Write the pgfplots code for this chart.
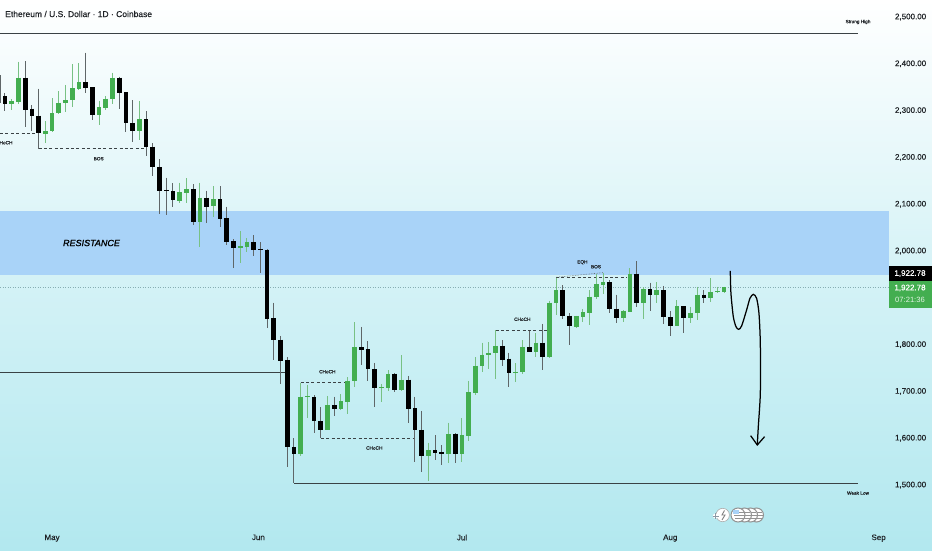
\documentclass[border=0pt]{standalone}
\usepackage{pgfplots}
\usepackage{pgfplotstable}
\pgfplotsset{compat=1.18}
\usepackage{fontspec}
\setmainfont{Liberation Sans}
\newfontfamily\heavy[FakeBold=0.35]{Liberation Sans}
\newfontfamily\resist[FakeBold=1.2,Color=000000]{Liberation Sans Italic}
\definecolor{upc}{HTML}{43AE50}
\definecolor{upw}{HTML}{78C184}
\definecolor{dnc}{HTML}{000000}
\definecolor{dnw}{HTML}{5F6668}
\definecolor{band}{HTML}{A9D3F8}
\definecolor{bgb}{HTML}{B2E8EF}
\definecolor{lvl}{HTML}{3A4245}
\definecolor{txt}{HTML}{1E2226}
\pgfplotstableread{
k h t b l
1 2324 2320.5 2315 2301
2 2404.5 2370.3 2319 2314
6 2277.7 2256.4 2250.7 2231.4
7 2326.2 2294.8 2255.7 2254
8 2341.1 2316.9 2294.1 2293
9 2354.7 2322.6 2315.5 2297.7
10 2399.5 2347.5 2321.9 2308.4
11 2401 2360.4 2345.4 2345
14 2321.2 2307 2289.9 2269.9
15 2331.2 2325.5 2305.5 2301.2
16 2381 2370.3 2324.8 2314.1
20 2320.5 2282 2256.4 2237.1
26 2146 2126 2107.5 2101.8
27 2155.2 2132.4 2124.6 2101.8
29 2146 2113.9 2061.9 2007.8
31 2138.8 2110.3 2096.1 2073.3
35 2042.7 2010.6 2005.6 1973.6
36 2027 2019.2 2009.2 1998.5
44 1718.6 1688.7 1566.9 1562.6
45 1713.7 1689.4 1687.3 1643.8
48 1690.2 1670.2 1617.5 1616.8
50 1694.4 1678.7 1663.1 1660.2
51 1730 1722.9 1678 1651
52 1847.6 1794.1 1722.9 1708.7
56 1715.8 1708.7 1706.5 1676.6
57 1745.7 1737.9 1706.5 1701.5
59 1777.1 1725.1 1702.3 1701.5
63 1590.4 1574 1562.6 1508.5
66 1633.2 1609.7 1566.2 1546.3
68 1643.1 1606.8 1566.2 1549.8
69 1722.2 1698 1605.4 1594
70 1772.8 1755 1695.9 1692.3
71 1804.1 1778.5 1754.3 1742.2
72 1805.5 1782.8 1777.1 1747.1
73 1830.5 1797 1782 1727.2
76 1759.9 1742.1 1740 1719.3
77 1809.8 1794.1 1741.4 1736.4
79 1824 1804.1 1784.8 1774.2
81 1893.8 1889.6 1772.7 1771.3
82 1943 1915.9 1888.1 1862.5
85 1861.8 1861.1 1838.3 1834.7
86 1876 1869.6 1858.9 1849
87 1916.6 1902.4 1868.2 1841.1
88 1950.8 1928.7 1901 1897.4
89 1953.7 1933 1927.3 1908.1
92 1873.9 1872.5 1856.8 1848.2
93 1963.6 1951.5 1870.3 1869.6
95 1922.3 1918.8 1888.1 1853.9
97 1933.7 1915.9 1905.2 1888.1
100 1895.2 1882.4 1840.4 1839.7
102 1881 1867.5 1856.8 1846.1
103 1923.8 1906.7 1866.8 1852.5
105 1941.6 1912.3 1900.2 1891.7
106 1923.8 1914.5 1911.6 1910.2
107 1923.8 1922.78 1913.1 1911
}\upt
\pgfplotstableread{
k h t b l
-0.7 2376 2316 2316 2316
0 2338 2331 2315 2300
3 2405 2370 2301.2 2264.2
4 2311.2 2304.1 2288.4 2256.4
5 2346.8 2289.1 2251.4 2218.6
12 2423.8 2360.4 2349 2336.9
13 2349.7 2349.7 2290.6 2279.9
17 2372.5 2370.3 2337.6 2303.4
18 2339.7 2339 2272.8 2255
19 2322.6 2273.5 2256.4 2232.9
21 2299.1 2282 2222.2 2203
22 2230 2222.9 2178.7 2160.9
23 2196.5 2179.4 2128.2 2078.3
24 2156.6 2129.6 2127.8 2076.2
25 2144.5 2127.4 2108.2 2094.7
28 2142.4 2131.7 2061.9 2054.8
30 2128.9 2113.9 2094.7 2059
32 2138.8 2110.3 2069 2052
33 2094.7 2069.8 2019.9 2012.8
34 2024.9 2021.3 2005.6 1964.3
37 2034.1 2019.2 2002.8 1989.3
38 2018.5 2004.2 2002.8 1952.2
39 2004.2 2002.8 1855.4 1836.2
40 1889.6 1856.8 1809.1 1767.1
41 1818.4 1810.5 1765.7 1715.8
42 1772.8 1767.1 1581.2 1537.7
43 1599.7 1580.5 1566.9 1503.5
46 1691.6 1688.7 1636 1611.8
47 1665.9 1636.7 1616.8 1599.7
49 1688.7 1670.2 1663.1 1648.1
53 1837.6 1794.1 1789.2 1757.1
54 1807 1789.9 1747.1 1722.2
55 1760.7 1747.8 1706.5 1667.4
58 1738.6 1737.9 1702.3 1699.4
60 1732.9 1725.1 1663.1 1633.2
61 1688.7 1664.5 1616.8 1549.1
62 1658.1 1617.5 1562.6 1528.5
64 1606.8 1574.8 1569.1 1553.4
65 1585.4 1570.5 1566.2 1543.4
67 1610.4 1609.7 1566.2 1546.3
74 1809.8 1797 1767.1 1755
75 1782.7 1769.9 1740 1710.1
78 1829 1794.1 1784.8 1784.1
80 1844 1804.1 1772.7 1745.7
83 1926.6 1915.9 1861.1 1854.7
84 1866.8 1861.8 1839 1799.8
90 1938 1933 1875.3 1866.8
91 1906.7 1876.7 1857.5 1845.4
94 1977.9 1951.5 1888.8 1879.6
96 1932.3 1918.8 1906 1871
98 1925.2 1915.9 1858.2 1844.7
99 1871.8 1858.9 1840.4 1819
101 1882.4 1882.4 1856.8 1824.7
104 1916.6 1906.7 1900.2 1888.1
}\dnt
\begin{document}
\begin{tikzpicture}
\path[use as bounding box] (0,0) rectangle (932pt,550pt);
\shade[top color=white, bottom color=bgb, middle color=bgb!55!white] (0,0) rectangle (932pt,550pt);
\begin{axis}[
  at={(0pt,25pt)}, anchor=south west, scale only axis,
  width=889pt, height=525pt,
  xmin=-0.744, xmax=131.55, ymin=1414.5, ymax=2536.3,
  axis line style={draw=none}, major tick length=0pt,
  ytick={1500,1600,1700,1800,2000,2100,2200,2300,2400,2500},
  yticklabel pos=right,
  xtick={7,37.7,68,99,130}, xticklabels={May,Jun,Jul,Aug,Sep},
  /pgf/number format/assume math mode=true,
  /pgf/number format/fixed, /pgf/number format/fixed zerofill,
  /pgf/number format/precision=2, /pgf/number format/1000 sep={,},
  scaled y ticks=false,
  y tick label style={font=\heavy\fontsize{8}{9}\selectfont, text=txt, anchor=west, xshift=2.5pt},
  x tick label style={font=\heavy\fontsize{8}{9}\selectfont, text=txt, yshift=-6pt},
  tick style={draw=none},
]
% resistance zone
\addplot[fill=band, draw=none, forget plot] coordinates {(-0.744,2085.5) (131.55,2085.5) (131.55,1948.7) (-0.744,1948.7)} -- cycle;
% last price
\addplot[color=lvl!35!bgb, dotted, line width=0.5pt, forget plot] coordinates {(-0.744,1922.78) (131.55,1922.78)};
% levels
\addplot[color=lvl, line width=0.9pt, forget plot] coordinates {(-0.744,2465.8) (126.9,2465.8)};
\addplot[color=lvl, line width=0.8pt, forget plot] coordinates {(43,1503.6) (126.9,1503.6)};
\addplot[color=lvl, line width=0.8pt, forget plot] coordinates {(-0.744,1741.5) (41.7,1741.5)};
% dashed structure
\foreach \a/\b/\p in {-0.744/5/2251.5, 5/21/2218.6, 44/51/1718.6, 47/61/1599.7, 73/81/1830.5, 82/92.5/1943.8}{
  \edef\tmp{\noexpand\addplot[color=lvl, dash pattern=on 3pt off 2.4pt, line width=0.7pt, forget plot] coordinates {(\a,\p) (\b,\p)};}
  \tmp
}
\addplot[color=lvl!80!white, densely dotted, line width=0.6pt, forget plot] coordinates {(82,1943.8) (89,1953.7)};
% wicks
\addplot[draw=none, mark=none, forget plot, error bars/.cd, y dir=minus, y explicit, error mark=none, error bar style={line width=1pt, color=upw}]
  table[x=k, y=h, y error minus expr=\thisrow{h}-\thisrow{l}] {\upt};
\addplot[draw=none, mark=none, forget plot, error bars/.cd, y dir=minus, y explicit, error mark=none, error bar style={line width=1pt, color=dnw}]
  table[x=k, y=h, y error minus expr=\thisrow{h}-\thisrow{l}] {\dnt};
% bodies
\addplot[draw=none, mark=none, forget plot, error bars/.cd, y dir=minus, y explicit, error mark=none, error bar style={line width=4.7pt, color=upc}]
  table[x=k, y=t, y error minus expr=\thisrow{t}-\thisrow{b}] {\upt};
\addplot[draw=none, mark=none, forget plot, error bars/.cd, y dir=minus, y explicit, error mark=none, error bar style={line width=4.7pt, color=dnc}]
  table[x=k, y=t, y error minus expr=\thisrow{t}-\thisrow{b}] {\dnt};
% projected path
\addplot[black, line width=1.25pt, smooth, tension=0.45, forget plot] coordinates {(107.93,1957.3) (108.03,1909.6) (108.38,1859.7) (108.78,1838.3) (109.17,1832.6) (109.62,1839.8) (110.36,1873.9) (110.86,1898.9) (111.36,1907.4) (111.85,1898.9) (112.2,1866.8) (112.4,1802.7) (112.4,1695.9) (112.1,1624.6) (111.95,1585.5)};
\addplot[black, line width=1.25pt, forget plot] coordinates {(110.96,1605.4) (111.95,1585.5) (113.04,1603.3)};
\end{axis}
\begin{scope}[x=1pt,y=-1pt,yshift=550pt]
\node[anchor=west, inner sep=0, font=\heavy\fontsize{8.5}{10}\selectfont, text=txt] at (5,14) {Ethereum / U.S. Dollar · 1D · Coinbase};
\node[font=\resist\fontsize{9}{12}\selectfont, text=black, inner sep=0] at (91.5,243) {RESISTANCE};
\foreach \px/\py/\s in {6/142.7/HoCH, 98.7/158.7/BOS, 327.3/371.7/CHoCH, 374.3/448/CHoCH, 522.3/319.3/CHoCH, 582.3/262.3/EQH, 596/266.7/BOS, 858/22/Strong High, 858/493/Weak Low}{
  \node[font=\heavy\fontsize{4.7}{5}\selectfont, text=txt, inner sep=0] at (\px,\py) {\s};
}
\fill[black] (889,266) rectangle (932,281);
\node[font=\heavy\fontsize{8}{9}\selectfont, text=white, inner sep=0] at (910,273.5) {1,922.78};
\fill[upc] (889,281) rectangle (932,308);
\node[font=\heavy\fontsize{8}{9}\selectfont, text=white, inner sep=0] at (910,288) {1,922.78};
\node[font=\fontsize{7.6}{9}\selectfont, text=white!85!upc, inner sep=0] at (910,300) {07:21:36};
% flags
\foreach \cx in {756.5,750.5,744.5,738}{
  \draw[fill=white, draw=gray!85, line width=1pt] (\cx,515) circle (7);
  \draw[gray!85, line width=0.9pt] (\cx-3,512) -- (\cx+5.5,512) (\cx-4,515) -- (\cx+6.5,515) (\cx-3,518) -- (\cx+5.5,518);
}
\fill[band] (733,510) rectangle (739,514);
\draw[fill=white, draw=gray!65, line width=0.6pt] (722.7,515) circle (6.7);
\draw[gray, line width=0.9pt] (724.5,510.5) -- (722,515) -- (725,515) -- (722,520);
\fill[white] (715.5,516) circle (2.6);
\draw[gray!70!band, line width=0.7pt] (715.5,513) -- (715.5,519) (712.5,516) -- (718.5,516);
\end{scope}
\end{tikzpicture}
\end{document}
